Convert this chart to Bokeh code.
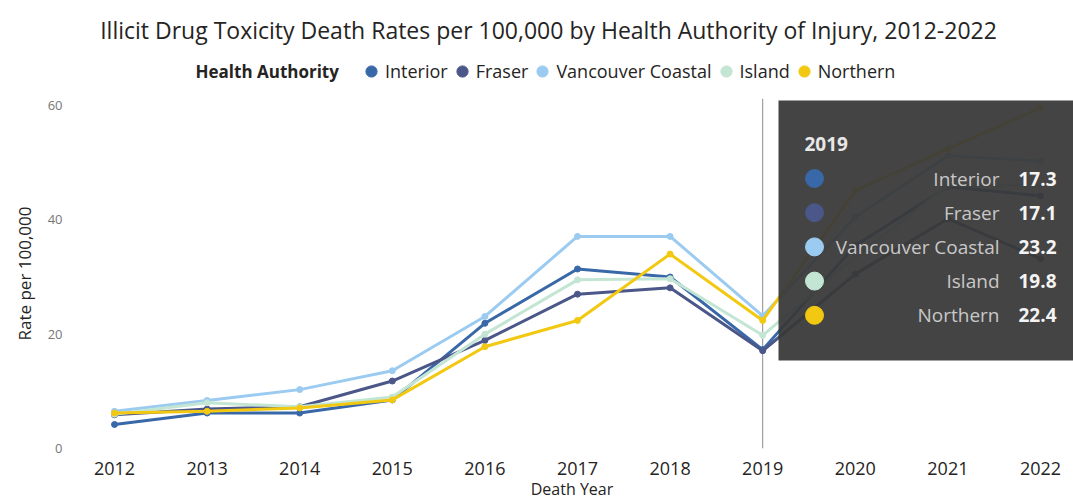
from bokeh.plotting import figure
from bokeh.layouts import column
from bokeh.models import (Range1d, FixedTicker, Legend, LegendItem, Span,
                          BoxAnnotation, Label)
from bokeh.embed import file_html
from bokeh.resources import INLINE

# ---------------- data ----------------
years = [2012, 2013, 2014, 2015, 2016, 2017, 2018, 2019, 2020, 2021, 2022]
series_names = ["Interior", "Fraser", "Vancouver Coastal", "Island", "Northern"]
interior = [4.2, 6.2, 6.2, 8.5, 21.9, 31.4, 30.0, 17.3, 35.5, 45.8, 44.2]
fraser = [5.9, 6.9, 7.3, 11.8, 18.9, 27.0, 28.1, 17.1, 30.5, 40.2, 33.2]
vancouver_coastal = [6.5, 8.4, 10.3, 13.6, 23.1, 37.1, 37.1, 23.2, 40.5, 51.2, 50.3]
island = [6.0, 8.0, 7.3, 9.0, 20.0, 29.5, 29.7, 19.8, 33.5, 46.0, 46.0]
northern = [6.2, 6.5, 7.1, 8.5, 17.8, 22.4, 34.0, 22.4, 45.1, 52.4, 59.6]
series_values = [interior, fraser, vancouver_coastal, island, northern]
colors = ["#3868A8", "#4A5788", "#9BCBF0", "#C3E5D4", "#F2C811"]
y_ticks = [0, 20, 40, 60]
hover_year = 2019

title_text = "Illicit Drug Toxicity Death Rates per 100,000 by Health Authority of Injury, 2012-2022"
legend_title = "Health Authority"
x_title = "Death Year"
y_title = "Rate per 100,000"

FONT = "Open Sans"
DARK = "#252423"
W = 1073
HEAD_H = 90

# ---------------- geometry helpers (page px -> data) ----------------
X0_PX, X_STEP = 114.0, 92.6
Y0_PX, Y_PPU = 448.0, 5.717
FRAME_L, FRAME_T = 70, 98


def xd(px):
    return years[0] + (px - X0_PX) / X_STEP


def yd(py):
    return (Y0_PX - py) / Y_PPU


# ---------------- header: title + legend (frame aligned with the chart) ----------------
head = figure(width=W, height=HEAD_H, output_backend="svg", toolbar_location=None,
              x_range=Range1d(FRAME_L, W), y_range=Range1d(HEAD_H, 0),
              x_axis_location=None, y_axis_location=None,
              min_border_left=FRAME_L, min_border_right=0,
              min_border_top=0, min_border_bottom=0)
head.outline_line_color = None
head.grid.visible = False
head.background_fill_color = "white"
head.border_fill_color = "white"

head.add_layout(Label(x=548, y=29, text=title_text, text_font=FONT,
                      text_font_size="23px", text_font_style="normal",
                      text_color=DARK, text_align="center", text_baseline="middle"))
head.add_layout(Label(x=195, y=71, text=legend_title, text_font=FONT,
                      text_font_size="17px", text_font_style="bold",
                      text_color=DARK, text_align="left", text_baseline="middle"))
items = []
for name, c in zip(series_names, colors):
    # legend proxy (zero-size, not visible in the header)
    r = head.scatter(x=[0], y=[0], size=0, fill_color=c, line_color=c)
    items.append(LegendItem(label=name, renderers=[r]))
legend = Legend(items=items, orientation="horizontal",
                location=(357 - FRAME_L, HEAD_H - 86),
                label_text_font=FONT, label_text_font_size="18px",
                label_text_color=DARK,
                glyph_width=28, glyph_height=30, label_standoff=0, spacing=0,
                padding=0, margin=0, border_line_color=None,
                background_fill_alpha=0)
head.add_layout(legend, "center")

# ---------------- main chart ----------------
p = figure(width=W, height=502 - HEAD_H, output_backend="svg", toolbar_location=None,
           x_range=Range1d(xd(FRAME_L), xd(W)), y_range=Range1d(0, yd(FRAME_T)),
           min_border_left=FRAME_L, min_border_right=0,
           min_border_top=FRAME_T - HEAD_H, min_border_bottom=54)
p.outline_line_color = None
p.grid.visible = False
p.background_fill_color = "white"
p.border_fill_color = "white"

xa = p.xaxis[0]
xa.ticker = FixedTicker(ticks=years)
xa.axis_line_color = None
xa.major_tick_line_color = None
xa.minor_tick_line_color = None
xa.major_tick_out = 0
xa.major_label_standoff = 13
xa.major_label_text_font = FONT
xa.major_label_text_font_size = "18px"
xa.major_label_text_color = DARK
xa.axis_label = x_title
xa.axis_label_text_font = FONT
xa.axis_label_text_font_size = "16px"
xa.axis_label_text_font_style = "normal"
xa.axis_label_text_color = DARK
xa.axis_label_standoff = 0

ya = p.yaxis[0]
ya.ticker = FixedTicker(ticks=y_ticks)
ya.axis_line_color = None
ya.major_tick_line_color = None
ya.minor_tick_line_color = None
ya.major_tick_out = 0
ya.major_label_standoff = 8
ya.major_label_text_font = FONT
ya.major_label_text_font_size = "13px"
ya.major_label_text_color = "#777777"
ya.axis_label = y_title
ya.axis_label_text_font = FONT
ya.axis_label_text_font_size = "17px"
ya.axis_label_text_font_style = "normal"
ya.axis_label_text_color = DARK
ya.axis_label_standoff = 9

p.add_layout(Span(location=hover_year, dimension="height", line_color="#8c8c8c",
                  line_width=1, level="underlay"))

for name, vals, c in zip(series_names, series_values, colors):
    p.line(years, vals, line_color=c, line_width=3)
    p.scatter(years, vals, size=6, fill_color=c, line_color=c)

# tooltip for the hovered year
p.add_layout(BoxAnnotation(left=xd(778), right=xd(1090), top=yd(100), bottom=yd(360),
                           fill_color="#383838", fill_alpha=0.94, line_color=None))
hi = years.index(hover_year)
p.add_layout(Label(x=xd(804), y=yd(143), text=str(hover_year), text_font=FONT,
                   text_font_size="19px", text_font_style="bold",
                   text_color="#e8e8e8", text_baseline="middle", text_align="left"))
rows = [178 + i * 34.2 for i in range(len(series_names))]
p.scatter([xd(814)] * len(series_names), [yd(r) for r in rows], size=18,
          fill_color=colors, line_color=colors, level="overlay")
for name, vals, ry in zip(series_names, series_values, rows):
    p.add_layout(Label(x=xd(999), y=yd(ry), text=name, text_font=FONT,
                       text_font_size="19px", text_color="#c8c8c8",
                       text_baseline="middle", text_align="right"))
    p.add_layout(Label(x=xd(1018), y=yd(ry), text=f"{vals[hi]:.1f}", text_font=FONT,
                       text_font_size="19px", text_font_style="bold",
                       text_color="#f4f4f4", text_baseline="middle", text_align="left"))

layout = column(head, p, spacing=0)
open("out.html", "w").write(file_html(layout, INLINE))
